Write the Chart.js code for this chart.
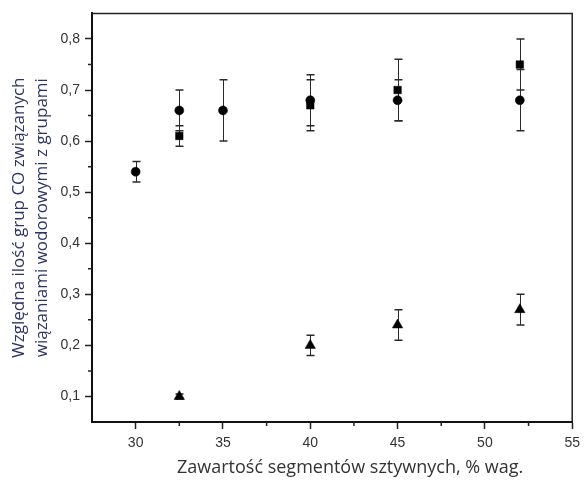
<!DOCTYPE html>
<html><head><meta charset="utf-8">
<script src="https://cdn.jsdelivr.net/npm/chart.js@4.4.0/dist/chart.umd.min.js"></script>
<style>html,body{margin:0;padding:0;background:#fff;}</style>
</head><body>
<canvas id="c" width="586" height="483"></canvas>
<script>
// ---- data ----
const circleX    = [30, 32.5, 35, 40, 45, 52];
const circleY    = [0.54, 0.66, 0.66, 0.68, 0.68, 0.68];
const circleLow  = [0.52, 0.62, 0.60, 0.63, 0.64, 0.62];
const circleHigh = [0.56, 0.70, 0.72, 0.73, 0.72, 0.74];

const squareX    = [32.5, 40, 45, 52];
const squareY    = [0.61, 0.67, 0.70, 0.75];
const squareLow  = [0.59, 0.62, 0.64, 0.70];
const squareHigh = [0.63, 0.72, 0.76, 0.80];

const triangleX    = [32.5, 40, 45, 52];
const triangleY    = [0.10, 0.20, 0.24, 0.27];
const triangleLow  = [0.095, 0.18, 0.21, 0.24];
const triangleHigh = [0.105, 0.22, 0.27, 0.30];

const xTitle = 'Zawartość segmentów sztywnych, % wag.';
const yTitle = ['Względna ilość grup CO związanych', 'wiązaniami wodorowymi z grupami'];

const toPts = (xs, ys) => xs.map((x, i) => ({x: x, y: ys[i]}));
const isMajorY = v => Math.abs(v * 10 - Math.round(v * 10)) < 1e-6;
const isMajorX = v => Math.abs(v / 5 - Math.round(v / 5)) < 1e-6;

const titleFontFamily = "'Open Sans', sans-serif";

const errorBars = {
  id: 'errorBars',
  beforeDatasetsDraw(chart) {
    const ctx = chart.ctx, xs = chart.scales.x, ys = chart.scales.y;
    ctx.save();
    ctx.strokeStyle = '#2a2a2a';
    chart.data.datasets.forEach(ds => {
      ds.data.forEach((p, i) => {
        const px = Math.round(xs.getPixelForValue(p.x)) + 0.5;
        const yl = ys.getPixelForValue(ds.errLow[i]);
        const yh = ys.getPixelForValue(ds.errHigh[i]);
        ctx.lineWidth = 1;
        ctx.beginPath(); ctx.moveTo(px, yl); ctx.lineTo(px, yh); ctx.stroke();
        ctx.lineWidth = 1.5;
        ctx.beginPath();
        ctx.moveTo(px - 4, yl); ctx.lineTo(px + 4, yl);
        ctx.moveTo(px - 4, yh); ctx.lineTo(px + 4, yh);
        ctx.stroke();
      });
    });
    ctx.restore();
  }
};

const frame = {
  id: 'frame',
  afterDraw(chart) {
    const ctx = chart.ctx, a = chart.chartArea, xs = chart.scales.x, ys = chart.scales.y;
    ctx.save();
    ctx.strokeStyle = '#222';
    ctx.lineWidth = 1.5;
    ctx.beginPath();
    ctx.moveTo(a.left, a.top); ctx.lineTo(a.right, a.top); ctx.lineTo(a.right, a.bottom);
    ctx.stroke();
    // minor ticks
    ctx.beginPath();
    xs.ticks.forEach(t => {
      if (!isMajorX(t.value) && t.value > xs.min && t.value < xs.max) {
        const px = xs.getPixelForValue(t.value);
        ctx.moveTo(px, a.bottom); ctx.lineTo(px, a.bottom + 4);
      }
    });
    ys.ticks.forEach(t => {
      if (!isMajorY(t.value) && t.value > ys.min + 1e-6 && t.value < ys.max - 1e-6) {
        const py = ys.getPixelForValue(t.value);
        ctx.moveTo(a.left - 4, py); ctx.lineTo(a.left, py);
      }
    });
    ctx.stroke();
    // x-axis title (slightly right of the plot centre, as in the reference)
    ctx.fillStyle = '#333';
    ctx.font = '18px ' + titleFontFamily;
    ctx.textAlign = 'center';
    ctx.textBaseline = 'middle';
    ctx.fillText(xTitle, (a.left + a.right) / 2 + 18, 468);
    ctx.restore();
  }
};

const tickFont = {family: "'Liberation Sans', Arial, sans-serif", size: 14};

new Chart(document.getElementById('c'), {
  type: 'scatter',
  data: {
    datasets: [
      {label: 'circle', data: toPts(circleX, circleY), errLow: circleLow, errHigh: circleHigh,
       pointStyle: 'circle', pointRadius: 4.5, backgroundColor: '#000', borderColor: '#000', borderWidth: 0.5},
      {label: 'square', data: toPts(squareX, squareY), errLow: squareLow, errHigh: squareHigh,
       pointStyle: 'rect', pointRadius: 5.3, backgroundColor: '#000', borderColor: '#000', borderWidth: 0.5},
      {label: 'triangle', data: toPts(triangleX, triangleY), errLow: triangleLow, errHigh: triangleHigh,
       pointStyle: 'triangle', pointRadius: 6, backgroundColor: '#000', borderColor: '#000', borderWidth: 0.5}
    ]
  },
  options: {
    responsive: false,
    animation: false,
    devicePixelRatio: 1,
    layout: {padding: {left: 0, right: 10, top: 12, bottom: 0}},
    plugins: {legend: {display: false}, tooltip: {enabled: false}},
    scales: {
      x: {
        type: 'linear', min: 27.5, max: 55,
        afterFit: s => { s.height = 61; },
        border: {display: true, color: '#111', width: 2},
        grid: {drawOnChartArea: false, drawTicks: true, tickLength: 7, tickWidth: 1.5,
               tickColor: c => (c.tick && isMajorX(c.tick.value) && c.tick.value > 27.6) ? '#222' : 'rgba(0,0,0,0)'},
        ticks: {stepSize: 2.5, autoSkip: false, maxRotation: 0, padding: 6, color: '#333', font: tickFont,
                callback: v => isMajorX(v) ? String(Math.round(v)) : ''},
        title: {display: false, text: xTitle}
      },
      y: {
        type: 'linear', min: 0.05, max: 0.85,
        afterFit: s => { s.width = 92; },
        border: {display: true, color: '#111', width: 2},
        grid: {drawOnChartArea: false, drawTicks: true, tickLength: 7, tickWidth: 1.5,
               tickColor: c => (c.tick && isMajorY(c.tick.value)) ? '#222' : 'rgba(0,0,0,0)'},
        ticks: {stepSize: 0.05, autoSkip: false, padding: 5, color: '#333', font: tickFont,
                callback: v => isMajorY(v) ? v.toFixed(1).replace('.', ',') : ''},
        title: {display: true, text: yTitle, color: '#2c3566',
                font: {family: titleFontFamily, size: 17, lineHeight: 1.35}, padding: {top: 8, bottom: 0}}
      }
    }
  },
  plugins: [errorBars, frame]
});
</script>
</body></html>
